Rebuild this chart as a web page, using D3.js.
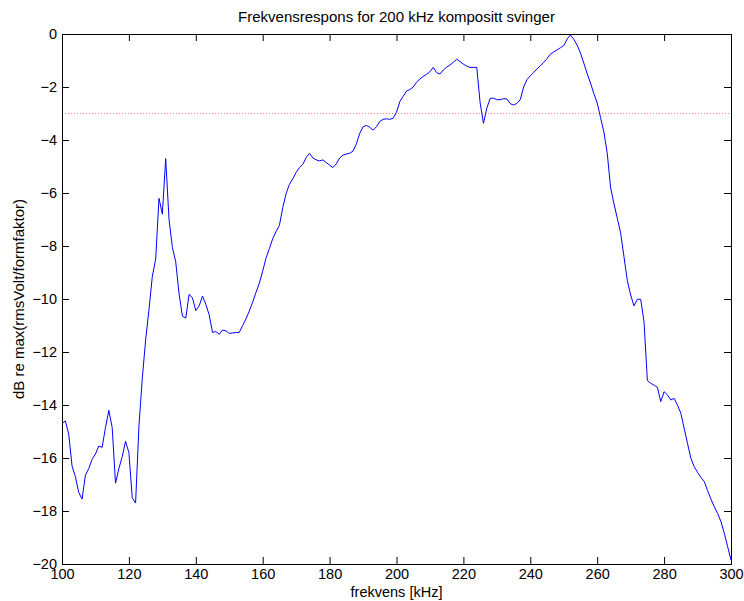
<!DOCTYPE html>
<html>
<head>
<meta charset="utf-8">
<script src="https://cdn.jsdelivr.net/npm/d3@7"></script>
<style>
  body { margin: 0; background: #fff; }
  svg text { font-family: "Liberation Sans", Arial, sans-serif; fill: #000; }
</style>
</head>
<body>
<div id="chart"></div>
<script>

// Data (one point per kHz, 100..300)
var freqStart = 100;
var response = [
  -14.7, -14.6, -15.1, -16.3, -16.7, -17.3, -17.55, -16.65, -16.4, -16.05,   // 100-109
  -15.85, -15.55, -15.6, -14.85, -14.2, -14.85, -16.95, -16.4, -15.95, -15.37, // 110-119
  -15.8, -17.5, -17.7, -14.8, -13.0, -11.55, -10.4, -9.15, -8.5, -6.2,        // 120-129
  -6.8, -4.7, -7.0, -8.05, -8.6, -9.8, -10.65, -10.72, -9.82, -9.96,          // 130-139
  -10.44, -10.26, -9.89, -10.2, -10.6, -11.26, -11.23, -11.33, -11.17, -11.2, // 140-149
  -11.3, -11.28, -11.27, -11.26, -11.0, -10.75, -10.45, -10.12, -9.75, -9.4,  // 150-159
  -8.95, -8.45, -8.1, -7.72, -7.45, -7.22, -6.55, -6.02, -5.67, -5.46,        // 160-169
  -5.22, -5.04, -4.92, -4.66, -4.5, -4.68, -4.75, -4.79, -4.75, -4.85,        // 170-179
  -4.95, -5.04, -4.9, -4.68, -4.57, -4.53, -4.5, -4.42, -4.15, -3.75,         // 180-189
  -3.5, -3.45, -3.52, -3.63, -3.5, -3.3, -3.22, -3.2, -3.22, -3.18,           // 190-199
  -2.95, -2.55, -2.35, -2.15, -2.1, -2.0, -1.82, -1.7, -1.6, -1.52,           // 200-209
  -1.42, -1.26, -1.46, -1.51, -1.36, -1.25, -1.17, -1.07, -0.95, -1.04,       // 210-219
  -1.14, -1.21, -1.26, -1.26, -1.26, -2.6, -3.37, -2.8, -2.43, -2.42,         // 220-229
  -2.48, -2.48, -2.44, -2.45, -2.63, -2.68, -2.62, -2.48, -2.0, -1.72,        // 230-239
  -1.58, -1.45, -1.32, -1.2, -1.07, -0.93, -0.76, -0.68, -0.6, -0.52,         // 240-249
  -0.44, -0.19, -0.04, -0.2, -0.42, -0.72, -1.1, -1.5, -1.85, -2.25,          // 250-259
  -2.6, -3.15, -3.7, -4.5, -5.8, -6.4, -6.95, -7.5, -8.4, -9.3,               // 260-269
  -9.85, -10.26, -10.01, -10.01, -10.86, -13.08, -13.18, -13.25, -13.33, -13.87, // 270-279
  -13.5, -13.62, -13.81, -13.75, -14.0, -14.31, -14.88, -15.45, -16.01, -16.33,  // 280-289
  -16.54, -16.73, -16.89, -17.23, -17.55, -17.84, -18.09, -18.4, -18.84, -19.35, // 290-299
  -19.85                                                                           // 300
];

var xTicks = [100, 120, 140, 160, 180, 200, 220, 240, 260, 280, 300];
var yTicks = [0, -2, -4, -6, -8, -10, -12, -14, -16, -18, -20];
var refLevel = -3;   // -3 dB line

var titleText = "Frekvensrespons for 200 kHz kompositt svinger";
var xLabel = "frekvens [kHz]";
var yLabel = "dB re max(rmsVolt/formfaktor)";

// Build points
var data = response.map(function(v, i) { return { f: freqStart + i, db: v }; });

var W = 744, H = 601;
var margin = {top: 34, right: 13, bottom: 37, left: 62};
var width = W - margin.left - margin.right;
var height = H - margin.top - margin.bottom;
var fontSize = 14.5;

var svg = d3.select("#chart").append("svg")
    .attr("width", W)
    .attr("height", H);

var g = svg.append("g")
    .attr("transform", "translate(" + margin.left + "," + margin.top + ")");

var x = d3.scaleLinear().domain([100, 300]).range([0, width]);
var y = d3.scaleLinear().domain([-20, 0]).range([height, 0]);

function fmt(d) { return d < 0 ? "\u2212" + Math.abs(d) : String(d); }

// reference line (red dotted)
g.append("line")
    .attr("x1", x(100)).attr("x2", x(300))
    .attr("y1", y(refLevel)).attr("y2", y(refLevel))
    .attr("stroke", "#ff8080")
    .attr("stroke-width", 1)
    .attr("stroke-dasharray", "1,2");

// curve
var line = d3.line()
    .x(function(d) { return x(d.f); })
    .y(function(d) { return y(d.db); });

g.append("path")
    .datum(data)
    .attr("fill", "none")
    .attr("stroke", "#0000ff")
    .attr("stroke-width", 1)
    .attr("d", line);

// axes (ticks point inward, box on all sides)
var tickLen = 7;

var xBottom = g.append("g")
    .attr("transform", "translate(0," + height + ")")
    .call(d3.axisBottom(x).tickValues(xTicks).tickSize(-tickLen).tickPadding(5).tickFormat(fmt));
var xTop = g.append("g")
    .call(d3.axisTop(x).tickValues(xTicks).tickSize(-tickLen).tickFormat(""));
var yLeft = g.append("g")
    .call(d3.axisLeft(y).tickValues(yTicks).tickSize(-tickLen).tickPadding(5).tickFormat(fmt));
var yRight = g.append("g")
    .attr("transform", "translate(" + width + ",0)")
    .call(d3.axisRight(y).tickValues(yTicks).tickSize(-tickLen).tickFormat(""));

[xBottom, xTop, yLeft, yRight].forEach(function(a) {
    a.select(".domain").attr("stroke", "#000").attr("stroke-width", 1);
    a.selectAll(".tick line").attr("stroke", "#000");
    a.selectAll("text").attr("font-size", fontSize).attr("font-family", "Liberation Sans, Arial, sans-serif");
});

// title and labels
svg.append("text")
    .attr("x", margin.left + width / 2)
    .attr("y", 22)
    .attr("text-anchor", "middle")
    .attr("font-size", 15)
    .text(titleText);

svg.append("text")
    .attr("x", margin.left + width / 2)
    .attr("y", 597)
    .attr("text-anchor", "middle")
    .attr("font-size", fontSize)
    .text(xLabel);

svg.append("text")
    .attr("transform", "translate(24," + (margin.top + height / 2) + ") rotate(-90)")
    .attr("text-anchor", "middle")
    .attr("font-size", 15)
    .text(yLabel);

</script>
</body>
</html>
